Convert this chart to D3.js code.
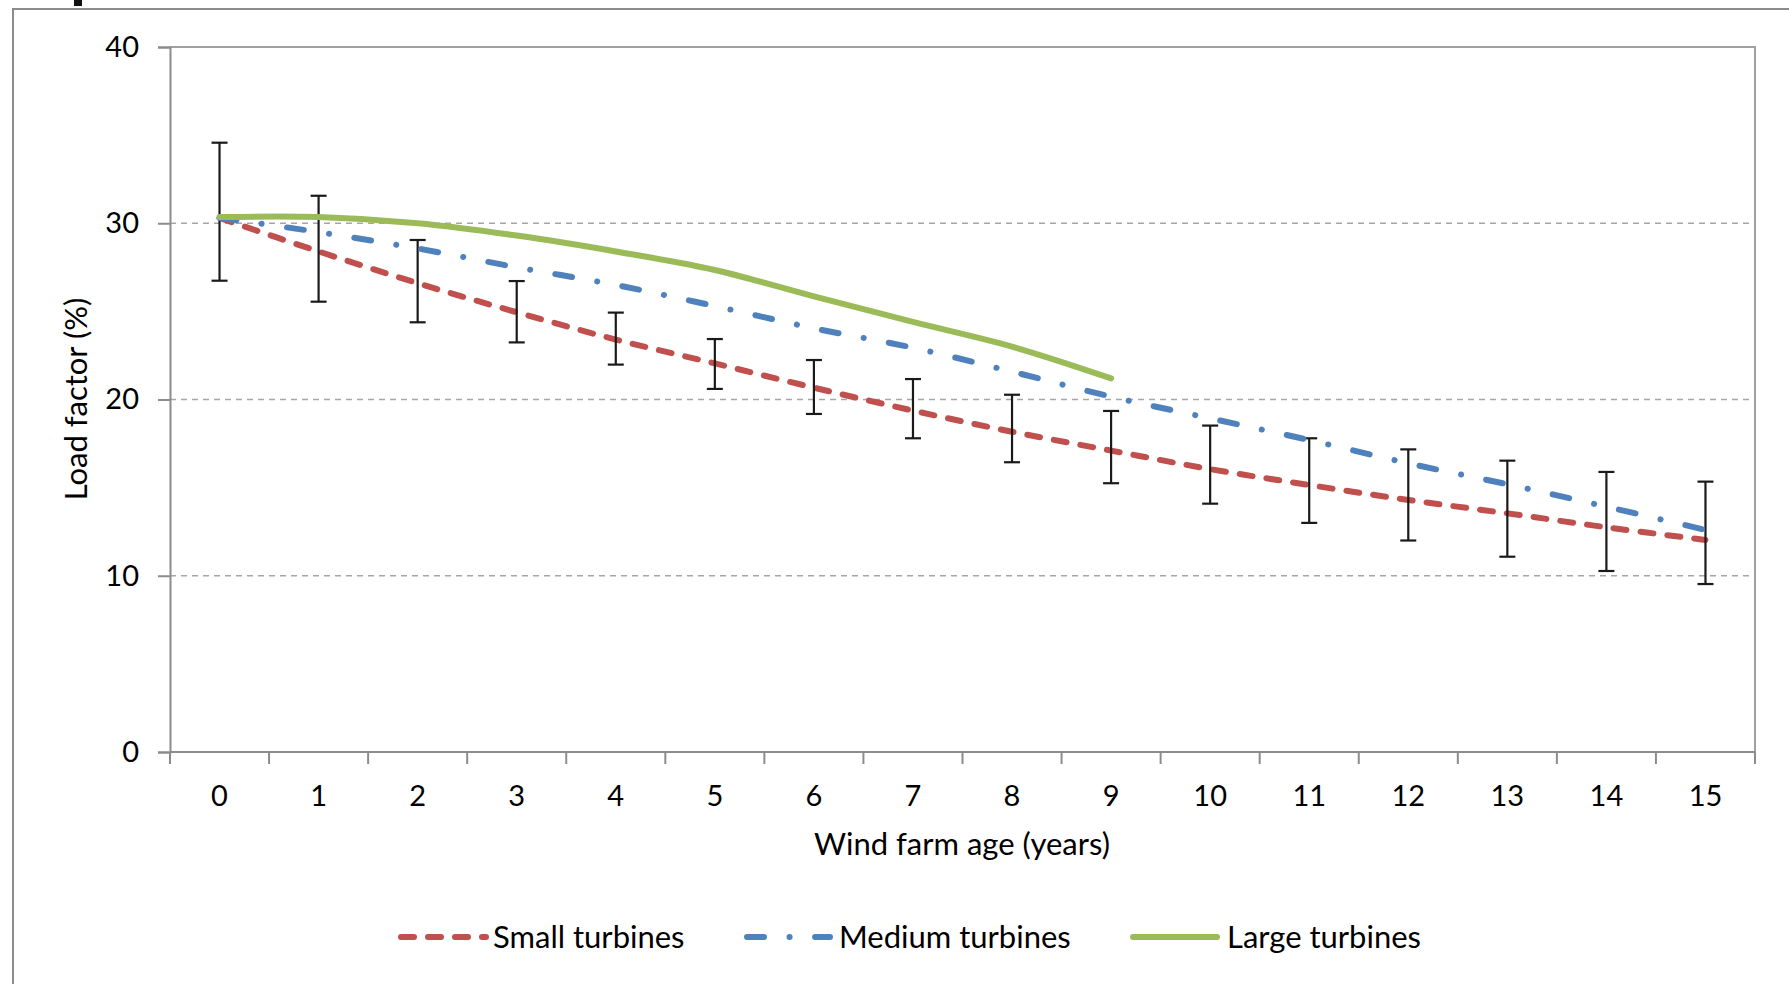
<!DOCTYPE html>
<html>
<head>
<meta charset="utf-8">
<script src="https://cdn.jsdelivr.net/npm/d3@7"></script>
<style>
  html, body { margin: 0; padding: 0; background: #ffffff; }
  svg { display: block; }
  text { font-family: Lato, "Open Sans", sans-serif; fill: #000; }
</style>
</head>
<body>
<svg id="chart" width="1789" height="984"></svg>
<script>
// ---- data ----
const years = [0, 1, 2, 3, 4, 5, 6, 7, 8, 9, 10, 11, 12, 13, 14, 15];
const yTicks = [0, 10, 20, 30, 40];
const smallTurbines  = [30.3, 28.4, 26.6, 24.95, 23.4, 22.05, 20.67, 19.37, 18.17, 17.1, 16.05, 15.15, 14.3, 13.54, 12.75, 12.03];
const mediumTurbines = [30.3, 29.5, 28.57, 27.5, 26.5, 25.3, 24.04, 22.94, 21.58, 20.16, 18.93, 17.7, 16.38, 15.19, 13.92, 12.6];
const largeTurbines  = [30.35, 30.35, 30.0, 29.3, 28.4, 27.35, 25.85, 24.4, 23.0, 21.2];
const errHigh = [34.57, 31.56, 29.05, 26.72, 24.93, 23.43, 22.24, 21.16, 20.27, 19.35, 18.52, 17.8, 17.17, 16.53, 15.89, 15.34];
const errLow  = [26.74, 25.55, 24.38, 23.24, 21.98, 20.6, 19.18, 17.8, 16.44, 15.25, 14.09, 13.0, 12.0, 11.08, 10.27, 9.53];
const seriesNames = ["Small turbines", "Medium turbines", "Large turbines"];
const xTitle = "Wind farm age (years)";
const yTitle = "Load factor (%)";

// ---- layout ----
const plot = { left: 170, right: 1755, top: 47, bottom: 752 };
const colors = { small: "#C0504D", medium: "#4F81BD", large: "#9BBB59" };

const svg = d3.select("#chart");

// outer chart frame (extends past the window on the right / bottom)
svg.append("rect").attr("x", 13).attr("y", 9).attr("width", 1820).attr("height", 1020)
  .attr("fill", "#fff").attr("stroke", "#8c8c8c").attr("stroke-width", 2);
// small black mark at the very top
svg.append("rect").attr("x", 74).attr("y", 0).attr("width", 8).attr("height", 6).attr("fill", "#111");

const x = d3.scaleBand().domain(years).range([plot.left, plot.right]).paddingInner(0).paddingOuter(0);
const y = d3.scaleLinear().domain([0, 40]).range([plot.bottom, plot.top]);
const cx = d => x(d) + x.bandwidth() / 2;

// gridlines (dashed)
svg.append("g").selectAll("line").data(yTicks.filter(t => t > 0 && t < 40)).join("line")
  .attr("x1", plot.left).attr("x2", plot.right)
  .attr("y1", d => y(d)).attr("y2", d => y(d))
  .attr("stroke", "#a6a6a6").attr("stroke-width", 1.6).attr("stroke-dasharray", "6,5");

// plot border (top / right)
svg.append("path")
  .attr("d", `M${plot.left},${plot.top}H${plot.right}V${plot.bottom}`)
  .attr("fill", "none").attr("stroke", "#a0a0a0").attr("stroke-width", 2);

// y axis
const yAxis = d3.axisLeft(y).tickValues(yTicks).tickSize(12).tickPadding(19);
const gy = svg.append("g").attr("transform", `translate(${plot.left},0)`).call(yAxis);
gy.select(".domain").attr("stroke", "#8c8c8c").attr("stroke-width", 2);
gy.selectAll(".tick line").attr("stroke", "#8c8c8c").attr("stroke-width", 2);
gy.selectAll(".tick text").attr("font-size", 29).attr("font-family", "Lato, 'Open Sans', sans-serif").attr("fill", "#000");

// x axis: line + boundary ticks + centred labels
const gx = svg.append("g");
gx.append("line").attr("x1", plot.left).attr("x2", plot.right).attr("y1", plot.bottom).attr("y2", plot.bottom)
  .attr("stroke", "#8c8c8c").attr("stroke-width", 2);
const boundaries = years.map(d => x(d)).concat([x(years[years.length - 1]) + x.bandwidth()]);
gx.selectAll("line.tk").data(boundaries).join("line").attr("class", "tk")
  .attr("x1", d => d).attr("x2", d => d).attr("y1", plot.bottom).attr("y2", plot.bottom + 12)
  .attr("stroke", "#8c8c8c").attr("stroke-width", 2);
gx.selectAll("text").data(years).join("text")
  .attr("x", d => cx(d)).attr("y", 806).attr("text-anchor", "middle")
  .attr("font-size", 29).text(d => d);

// axis titles
svg.append("text").attr("x", 962).attr("y", 855).attr("text-anchor", "middle")
  .attr("font-size", 31).text(xTitle);
svg.append("text").attr("transform", "translate(87,399) rotate(-90)").attr("text-anchor", "middle")
  .attr("font-size", 31).text(yTitle);

// lines
const line = d3.line().x((d, i) => cx(years[i])).y(d => y(d)).curve(d3.curveCatmullRom.alpha(0.5));

svg.append("path").datum(smallTurbines).attr("d", line)
  .attr("fill", "none").attr("stroke", colors.small).attr("stroke-width", 6)
  .attr("stroke-linecap", "round").attr("stroke-dasharray", "13,14");

// error bars
const eb = svg.append("g").attr("stroke", "#1a1a1a").attr("stroke-width", 2.2);
years.forEach((yr, i) => {
  eb.append("line").attr("x1", cx(yr)).attr("x2", cx(yr)).attr("y1", y(errHigh[i])).attr("y2", y(errLow[i]));
  eb.append("line").attr("x1", cx(yr) - 8).attr("x2", cx(yr) + 8).attr("y1", y(errHigh[i])).attr("y2", y(errHigh[i]));
  eb.append("line").attr("x1", cx(yr) - 8).attr("x2", cx(yr) + 8).attr("y1", y(errLow[i])).attr("y2", y(errLow[i]));
});

svg.append("path").datum(mediumTurbines).attr("d", line)
  .attr("fill", "none").attr("stroke", colors.medium).attr("stroke-width", 6)
  .attr("stroke-linecap", "round").attr("stroke-dasharray", "17,25.5,0.1,25.5");

svg.append("path").datum(largeTurbines).attr("d", line)
  .attr("fill", "none").attr("stroke", colors.large).attr("stroke-width", 6)
  .attr("stroke-linecap", "round");

// legend
const legendItems = [
  { name: seriesNames[0], color: colors.small, dash: "13,14", x0: 401, x1: 486, tx: 493 },
  { name: seriesNames[1], color: colors.medium, dash: "17,25.5,0.1,25.5", x0: 747, x1: 830, tx: 839 },
  { name: seriesNames[2], color: colors.large, dash: null, x0: 1133, x1: 1217, tx: 1227 }
];
const lg = svg.append("g");
legendItems.forEach(it => {
  lg.append("line").attr("x1", it.x0).attr("x2", it.x1).attr("y1", 937).attr("y2", 937)
    .attr("stroke", it.color).attr("stroke-width", 6).attr("stroke-linecap", "round")
    .attr("stroke-dasharray", it.dash);
  lg.append("text").attr("x", it.tx).attr("y", 948).attr("font-size", 31).text(it.name);
});
</script>
</body>
</html>
